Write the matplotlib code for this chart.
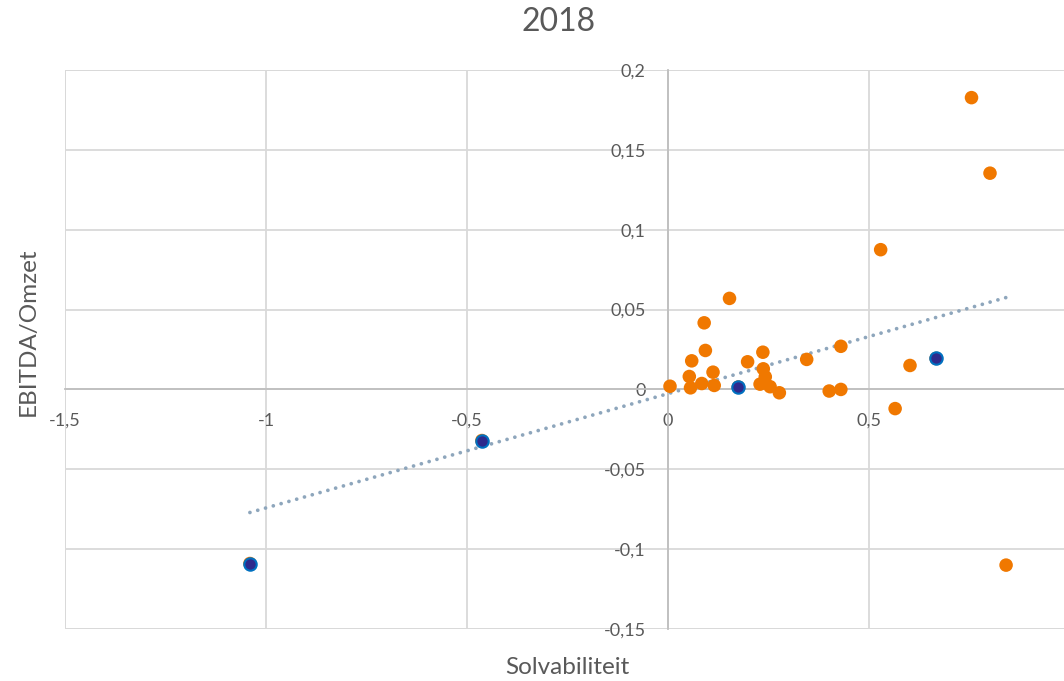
import numpy as np
import matplotlib.pyplot as plt
import matplotlib.ticker as ticker

plt.rcParams["font.family"] = ["Lato", "DejaVu Sans"]

# all companies (orange), trendline is fitted on these
solv = [0.005, 0.153, 0.090, 0.093, 0.059, 0.053, 0.056, 0.084, 0.112, 0.115,
        0.198, 0.236, 0.237, 0.242, 0.229, 0.254, 0.277, 0.345, 0.401, 0.430,
        0.430, 0.755, 0.801, 0.529, 0.602, 0.565, 0.841,
        -1.040, -0.463, 0.175, 0.667]
ebitda = [0.002, 0.057, 0.0417, 0.0244, 0.0179, 0.0081, 0.001, 0.0037, 0.0108, 0.0025,
          0.0173, 0.0233, 0.0129, 0.0079, 0.0033, 0.0017, -0.0021, 0.0188, -0.001, 0.0,
          0.027, 0.1827, 0.1354, 0.0875, 0.015, -0.012, -0.110,
          -0.109, -0.032, 0.0015, 0.0194]

# highlighted companies (blue)
solv_hl = [-1.040, -0.463, 0.175, 0.667]
ebitda_hl = [-0.109, -0.032, 0.0015, 0.0194]

TXT = "#595959"
GRID = "#D9D9D9"


def comma(v, pos):
    s = f"{v:.2f}".rstrip("0").rstrip(".")
    if s in ("-0", ""):
        s = "0"
    return s.replace(".", ",")


def main():
    fig = plt.figure(figsize=(10.64, 6.81), dpi=100)
    W, H = 1064, 681
    left, right, top, bottom = 65, 1070, 70, 629
    ax = fig.add_axes([left / W, 1 - bottom / H, (right - left) / W, (bottom - top) / H])

    ax.set_xlim(-1.5, 1.0)
    ax.set_ylim(-0.15, 0.2)
    ax.xaxis.set_major_locator(ticker.FixedLocator([-1.5, -1, -0.5, 0, 0.5]))
    ax.yaxis.set_major_locator(ticker.MultipleLocator(0.05))
    ax.xaxis.set_major_formatter(ticker.FuncFormatter(comma))
    ax.yaxis.set_major_formatter(ticker.FuncFormatter(comma))

    for s in ["top", "right"]:
        ax.spines[s].set_visible(False)
    ax.spines["left"].set_position(("data", 0))
    ax.spines["bottom"].set_position(("data", 0))
    for s in ["left", "bottom"]:
        ax.spines[s].set_color("#BFBFBF")
        ax.spines[s].set_linewidth(1.3)
        ax.spines[s].set_zorder(1.5)

    ax.tick_params(axis="both", length=0, labelsize=13, colors=TXT)
    ax.tick_params(axis="y", pad=16)
    ax.tick_params(axis="x", pad=17)

    ax.grid(True, color=GRID, linewidth=1.3, zorder=0)
    ax.set_axisbelow(True)
    # outer frame lines that are really gridlines in the original
    ax.axvline(-1.5, color=GRID, linewidth=1.3, zorder=0)
    ax.axhline(0.2, color=GRID, linewidth=1.3, zorder=0)
    ax.axhline(-0.15, color=GRID, linewidth=1.3, zorder=0)

    # linear trendline
    coef = np.polyfit(solv, ebitda, 1)
    xs = np.array([min(solv), max(solv)])
    ax.plot(xs, np.polyval(coef, xs), linestyle=(0, (0.01, 2.15)), color="#8EA6BC",
            linewidth=2.7, dash_capstyle="round", zorder=2)

    ax.scatter(solv, ebitda, s=95, color="#F07800", edgecolors="none", zorder=3)
    ax.scatter(solv_hl, ebitda_hl, s=80, color="#2E2A8C", edgecolors="#0070C0",
               linewidths=1.5, zorder=4)

    fig.text(559 / W, 1 - 22 / H, "2018", ha="center", va="center", fontsize=23, color=TXT)
    fig.text(567 / W, 1 - 667 / H, "Solvabiliteit", ha="center", va="center",
             fontsize=17.5, color=TXT)
    fig.text(28 / W, 1 - 332 / H, "EBITDA/Omzet", ha="center", va="center",
             rotation=90, fontsize=17.5, color=TXT)

    fig.savefig("out.png", dpi=100)


if __name__ == "__main__":
    main()
